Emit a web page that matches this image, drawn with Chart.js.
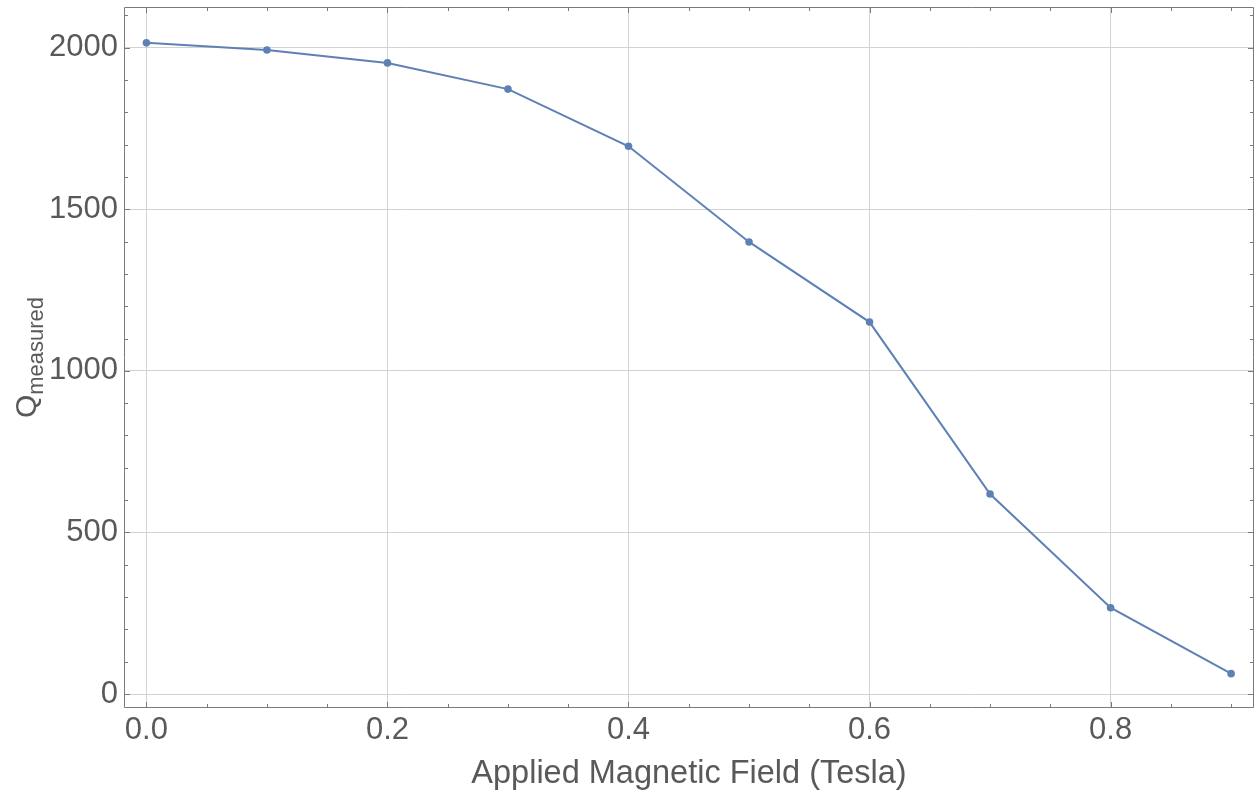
<!DOCTYPE html>
<html>
<head>
<meta charset="utf-8">
<script src="https://cdn.jsdelivr.net/npm/chart.js@4/dist/chart.umd.min.js"></script>
<style>
html,body{margin:0;padding:0;background:#fff;}
#wrap{width:1258px;height:797px;position:relative;}
</style>
</head>
<body>
<div id="wrap"><canvas id="c" width="1258" height="797"></canvas></div>
<script>
const fieldTesla = [0.0, 0.1, 0.2, 0.3, 0.4, 0.5, 0.6, 0.7, 0.8, 0.9];
const qMeasured = [2015, 1993, 1953, 1872, 1695, 1399, 1151, 619, 267, 63];
const xTickLabels = [0.0, 0.2, 0.4, 0.6, 0.8];
const yTickLabels = [0, 500, 1000, 1500, 2000];
const xTitle = 'Applied Magnetic Field (Tesla)';
const yTitleMain = 'Q';
const yTitleSub = 'measured';

const FONT = '"Liberation Sans", Arial, sans-serif';
const TEXT = '#595959';
const FRAME = '#7a7a7a';
const LINE = 'rgb(94,129,181)';

const framePlugin = {
  id: 'frame',
  afterDatasetsDraw(chart) {
    const {ctx, chartArea: a, scales: {x, y}} = chart;
    ctx.save();
    ctx.strokeStyle = FRAME;
    ctx.lineWidth = 1;
    ctx.beginPath();
    ctx.rect(Math.round(a.left) + 0.5, Math.round(a.top) + 0.5,
             Math.round(a.right - a.left) - 1, Math.round(a.bottom - a.top) - 1);
    ctx.stroke();
    ctx.beginPath();
    for (let i = 0; i <= 18; i++) {
      const v = i * 0.05;
      const major = Math.abs(v / 0.2 - Math.round(v / 0.2)) < 1e-6;
      const len = major ? 6 : 4;
      const px = Math.round(x.getPixelForValue(v)) + 0.5;
      if (px < a.left || px > a.right) continue;
      ctx.moveTo(px, a.bottom); ctx.lineTo(px, a.bottom - len);
      ctx.moveTo(px, a.top); ctx.lineTo(px, a.top + len);
    }
    for (let v = 0; v <= 2100; v += 100) {
      const major = v % 500 === 0;
      const len = major ? 6 : 4;
      const py = Math.round(y.getPixelForValue(v)) + 0.5;
      if (py < a.top || py > a.bottom) continue;
      ctx.moveTo(a.left, py); ctx.lineTo(a.left + len, py);
      ctx.moveTo(a.right, py); ctx.lineTo(a.right - len, py);
    }
    ctx.stroke();
    const cy = (a.top + a.bottom) / 2;
    ctx.fillStyle = TEXT;
    ctx.translate(36, cy);
    ctx.rotate(-Math.PI / 2);
    ctx.textBaseline = 'alphabetic';
    ctx.textAlign = 'left';
    ctx.font = '30px ' + FONT;
    const wQ = ctx.measureText(yTitleMain).width;
    ctx.font = '22px ' + FONT;
    const wS = ctx.measureText(yTitleSub).width;
    const total = wQ + wS;
    ctx.font = '30px ' + FONT;
    ctx.fillText(yTitleMain, -total / 2, 0);
    ctx.font = '22px ' + FONT;
    ctx.fillText(yTitleSub, -total / 2 + wQ, 7);
    ctx.restore();
  }
};

new Chart(document.getElementById('c'), {
  type: 'line',
  data: {
    datasets: [{
      data: fieldTesla.map((t, i) => ({x: t, y: qMeasured[i]})),
      borderColor: LINE,
      backgroundColor: LINE,
      borderWidth: 2,
      pointRadius: 3.8,
      pointBorderWidth: 0,
      pointBackgroundColor: LINE,
      tension: 0,
      clip: false
    }]
  },
  options: {
    responsive: false,
    animation: false,
    devicePixelRatio: 1,
    layout: {padding: {top: 7, right: 1, left: 0, bottom: 0}},
    plugins: {legend: {display: false}, tooltip: {enabled: false}},
    scales: {
      x: {
        type: 'linear',
        min: -0.0186,
        max: 0.919,
        afterBuildTicks(s) { s.ticks = xTickLabels.map(v => ({value: v})); },
        afterFit(s) { s.height = 89; s.paddingLeft = 0; s.paddingRight = 0; },
        ticks: {
          font: {family: FONT, size: 31},
          color: TEXT,
          padding: 4,
          maxRotation: 0,
          callback: v => Number(v).toFixed(1)
        },
        grid: {color: '#d2d2d2', lineWidth: 1, drawTicks: false},
        border: {display: false},
        title: {
          display: true,
          text: xTitle,
          font: {family: FONT, size: 32.5},
          color: TEXT,
          padding: {top: 0, bottom: 3}
        }
      },
      y: {
        type: 'linear',
        min: -43.3,
        max: 2126,
        afterBuildTicks(s) { s.ticks = yTickLabels.map(v => ({value: v})); },
        afterFit(s) { s.width = 124; s.paddingTop = 0; s.paddingBottom = 0; },
        ticks: {
          font: {family: FONT, size: 31},
          color: TEXT,
          padding: 6,
          callback: v => String(v)
        },
        grid: {color: '#d2d2d2', lineWidth: 1, drawTicks: false},
        border: {display: false}
      }
    }
  },
  plugins: [framePlugin]
});
</script>
</body>
</html>
